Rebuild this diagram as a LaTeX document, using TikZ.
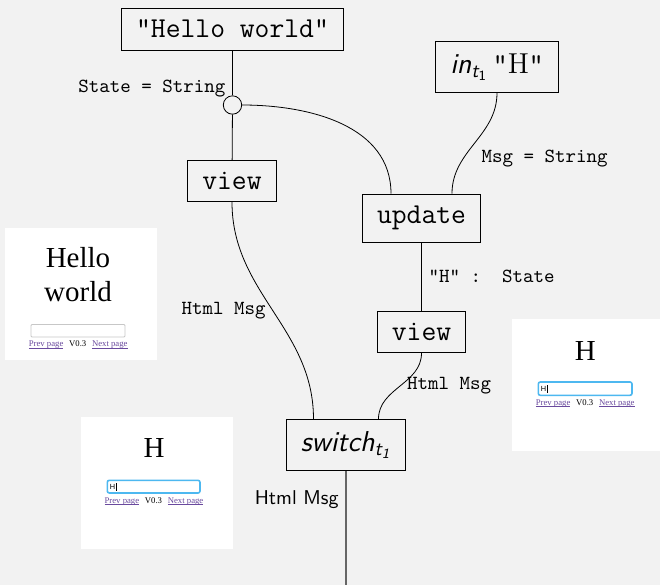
\documentclass[tikz,border=0pt]{standalone}
\usepackage{amsmath}
\usepackage{fontspec}
\newfontfamily\pagefont{Liberation Serif}
\newfontfamily\fieldfont{Liberation Sans}
\usetikzlibrary{positioning}
\definecolor{paper}{gray}{0.95}
\definecolor{visited}{HTML}{6A4A9E}
\definecolor{focus}{HTML}{4DB8F0}
\newcommand{\lnk}[1]{{\color{visited}\setbox0\hbox{#1}\rlap{\rule[-.14em]{\wd0}{.07em}}\box0}}
\newcommand{\tone}{$_{\textsf{\itshape t}_{\textsf{1}}}$}

\begin{document}
\begin{tikzpicture}[x=.5pt, y=-.5pt,
	box/.style={draw, inner xsep=7.25pt, inner ysep=6pt, font=\Large\ttfamily},
	lbl/.style={font=\ttfamily},
	big/.style={font=\pagefont\fontsize{14.5}{17}\selectfont},
	links/.style={font=\pagefont\fontsize{4.35}{5}\selectfont},
	field/.style={font=\fieldfont\fontsize{3.7}{4}\selectfont, anchor=west, inner sep=0pt}]
	\fill[paper] (0,0) rectangle (660,585);
	\useasboundingbox (0,0) rectangle (660,585);
	% boxes
	\node[box] (hello)  at (232.5,29)  {"Hello world"};
	\node[draw, circle, minimum size=9.2pt, inner sep=0pt] (split) at (232.5,105) {};
	\node[box] (view)   at (232,181)   {view};
	\node[box] (in)     at (497,67)    {\textsf{\itshape in}\tone\,"\textrm{H}"};
	\node[box] (update) at (421.5,218) {update};
	\node[box] (view2)  at (421.5,332) {view};
	\node[box, font=\Large\sffamily\itshape] (switch) at (346,445) {switch\tone};
	\coordinate (out) at (346,585);
	% wires
	\draw (hello) -- node[lbl, below left] (st) {State = String} (split);
	\draw (split) -- (view);
	\draw (split.east) to[out=0, in=90] ([xshift=-15.25pt]update.north);
	\draw (in.south) to[out=-90, in=90] node[lbl, below right] (msg) {Msg = String} ([xshift=15.25pt]update.north);
	\draw (update) -- node[lbl, right] (hs) {"H" :\ \ State} (view2);
	\draw (view.south) to[out=-90, in=90] node[lbl, left] (h1) {Html Msg} ([xshift=-16.25pt]switch.north);
	\draw (view2.south) to[out=-90, in=90] node[lbl, right] (h2) {Html Msg} ([xshift=16.25pt]switch.north);
	\draw[black!60, line width=.7pt] (switch) -- node[font=\sffamily, text=black, pos=.25, left] (h3) {Html Msg} (out);
	% page 1
	\fill[white] (5,227.5) rectangle (157,360);
	\node[big, align=center] (p1) at (78,275) {Hello\\world};
	\draw[black!22, fill=white, rounded corners=.5pt] (31,324.5) rectangle (125,337);
	\node[links] (l1) at (78.2,345) {\lnk{Prev page}\hspace{.66em}V0.3\hspace{.66em}\lnk{Next page}};
	% page 2
	\fill[white] (81,417) rectangle (233,548.5);
	\node[big, anchor=base] (p2) at (154.2,457.7) {H};
	\draw[focus, line width=.8pt, fill=white, rounded corners=1pt] (107.3,480.3) rectangle (200,493);
	\node[field] (f2) at (109.5,486.7) {H\hspace{.15em}\rule[-.2em]{.25pt}{1.1em}};
	\node[links] (l2) at (154,501.7) {\lnk{Prev page}\hspace{.66em}V0.3\hspace{.66em}\lnk{Next page}};
	% page 3
	\fill[white] (512,319) rectangle (660,450.5);
	\node[big, anchor=base] (p3) at (585.3,360) {H};
	\draw[focus, line width=.8pt, fill=white, rounded corners=1pt] (538.3,382) rectangle (632,395.3);
	\node[field] (f3) at (540.5,388.7) {H\hspace{.15em}\rule[-.2em]{.25pt}{1.1em}};
	\node[links] (l3) at (585.2,403.7) {\lnk{Prev page}\hspace{.66em}V0.3\hspace{.66em}\lnk{Next page}};
\end{tikzpicture}
\end{document}
